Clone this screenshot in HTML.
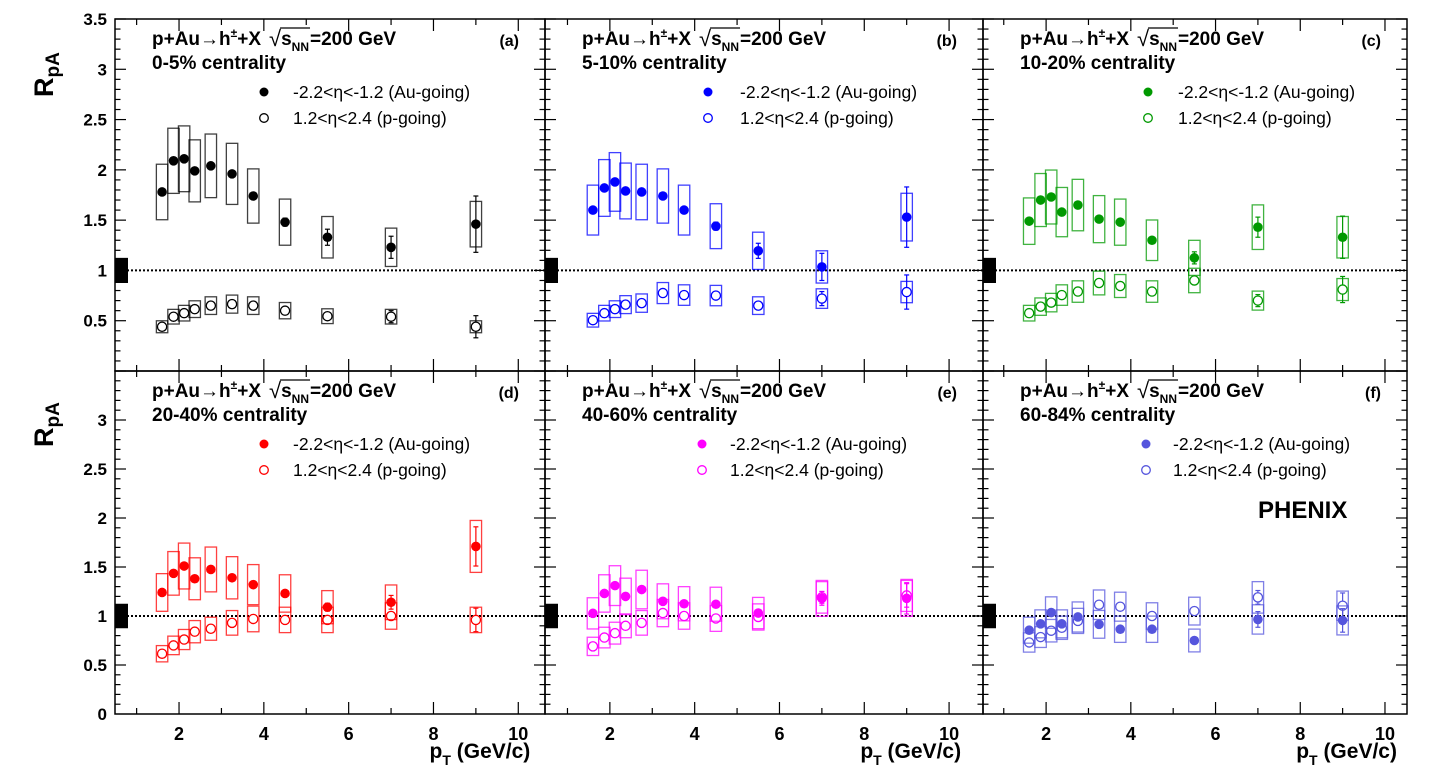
<!DOCTYPE html>
<html><head><meta charset="utf-8">
<style>
html,body{margin:0;padding:0;background:#fff;}
svg{display:block;font-family:"Liberation Sans",Arial,sans-serif;}
</style></head>
<body>
<svg id="chart" width="1438" height="775" viewBox="0 0 1438 775" xmlns="http://www.w3.org/2000/svg">
<rect x="0" y="0" width="1438" height="775" fill="#fff"/>
<text transform="translate(53,97) rotate(-90)" font-size="27" font-weight="bold">R<tspan font-size="19" dy="6">pA</tspan></text>
<text transform="translate(53,447) rotate(-90)" font-size="27" font-weight="bold">R<tspan font-size="19" dy="6">pA</tspan></text>
<text x="1258" y="518" font-size="24" font-weight="bold">PHENIX</text>
<g id="plots"></g>
</svg>
<script>
// ---- data ----
const pT = [1.6, 1.87, 2.12, 2.37, 2.75, 3.25, 3.75, 4.5, 5.5, 7, 9];
const panelLabels = ["(a)", "(b)", "(c)", "(d)", "(e)", "(f)"];
const centralityLabels = ["0-5% centrality", "5-10% centrality", "10-20% centrality", "20-40% centrality", "40-60% centrality", "60-84% centrality"];
const yTickLabelsTop = ["0.5", "1", "1.5", "2", "2.5", "3", "3.5"];
const yTickLabelsBottom = ["0", "0.5", "1", "1.5", "2", "2.5", "3"];
const xTickLabels = ["2", "4", "6", "8", "10"];

const auA = [1.78, 2.09, 2.11, 1.99, 2.04, 1.96, 1.74, 1.48, 1.33, 1.23, 1.46];
const pA  = [0.44, 0.54, 0.575, 0.615, 0.65, 0.665, 0.65, 0.60, 0.545, 0.54, 0.44];
const auB = [1.60, 1.82, 1.88, 1.79, 1.78, 1.74, 1.60, 1.44, 1.195, 1.035, 1.53];
const pB  = [0.505, 0.575, 0.615, 0.66, 0.675, 0.775, 0.755, 0.75, 0.65, 0.72, 0.785];
const auC = [1.49, 1.70, 1.73, 1.58, 1.65, 1.51, 1.48, 1.30, 1.125, 1.43, 1.33];
const pC  = [0.575, 0.64, 0.68, 0.755, 0.79, 0.875, 0.845, 0.79, 0.90, 0.70, 0.81];
const auD = [1.24, 1.435, 1.51, 1.38, 1.475, 1.39, 1.32, 1.23, 1.09, 1.14, 1.71];
const pD  = [0.615, 0.70, 0.76, 0.84, 0.87, 0.93, 0.97, 0.96, 0.96, 1.0, 0.96];
const auE = [1.027, 1.23, 1.31, 1.20, 1.27, 1.15, 1.125, 1.12, 1.03, 1.18, 1.18];
const pE  = [0.69, 0.78, 0.825, 0.90, 0.93, 1.03, 1.0, 0.975, 0.99, 1.19, 1.21];
const auF = [0.855, 0.92, 1.035, 0.92, 0.99, 0.915, 0.865, 0.865, 0.75, 0.965, 0.955];
const pF  = [0.73, 0.785, 0.85, 0.88, 0.95, 1.115, 1.095, 1.0, 1.05, 1.19, 1.105];

const auStatA = [0.02,0.02,0.02,0.02,0.02,0.02,0.03,0.04,0.08,0.11,0.28];
const pStatA  = [0.01,0.01,0.01,0.01,0.01,0.01,0.01,0.02,0.03,0.06,0.11];
const auStatB = [0.02,0.02,0.02,0.02,0.02,0.02,0.03,0.04,0.075,0.135,0.30];
const pStatB  = [0.01,0.01,0.01,0.01,0.01,0.01,0.01,0.02,0.03,0.07,0.17];
const auStatC = [0.02,0.02,0.02,0.02,0.02,0.02,0.02,0.03,0.06,0.10,0.21];
const pStatC  = [0.01,0.01,0.01,0.01,0.01,0.01,0.01,0.02,0.03,0.06,0.13];
const auStatD = [0.02,0.02,0.02,0.02,0.02,0.02,0.02,0.03,0.04,0.07,0.20];
const pStatD  = [0.01,0.01,0.01,0.01,0.01,0.01,0.01,0.02,0.02,0.04,0.12];
const auStatE = [0.02,0.02,0.02,0.02,0.02,0.02,0.02,0.02,0.03,0.07,0.16];
const pStatE  = [0.01,0.01,0.01,0.01,0.01,0.01,0.01,0.02,0.03,0.06,0.12];
const auStatF = [0.02,0.02,0.02,0.02,0.02,0.02,0.02,0.02,0.03,0.08,0.12];
const pStatF  = [0.01,0.01,0.01,0.01,0.01,0.01,0.01,0.02,0.03,0.07,0.13];

const sysFracAu = 0.155;
const sysFracP = 0.135;

// ---- layout ----
const panels = [
  {L:115, R:545, T:19,  B:371, pmin:0.49, pmax:10.63, color:"#000000", au:auA, p:pA, as:auStatA, ps:pStatA, leg:[149,178], row:0},
  {L:545, R:983, T:19,  B:371, pmin:0.47, pmax:10.80, color:"#0000ff", au:auB, p:pB, as:auStatB, ps:pStatB, leg:[163,195], row:0},
  {L:983, R:1407,T:19,  B:371, pmin:0.51, pmax:10.52, color:"#009900", au:auC, p:pC, as:auStatC, ps:pStatC, leg:[165,195], row:0},
  {L:115, R:545, T:371, B:714, pmin:0.49, pmax:10.63, color:"#ff0000", au:auD, p:pD, as:auStatD, ps:pStatD, leg:[149,178], row:1},
  {L:545, R:983, T:371, B:714, pmin:0.47, pmax:10.80, color:"#ff00ff", au:auE, p:pE, as:auStatE, ps:pStatE, leg:[157,185], row:1},
  {L:983, R:1407,T:371, B:714, pmin:0.51, pmax:10.52, color:"#5555dd", au:auF, p:pF, as:auStatF, ps:pStatF, leg:[163,190], row:1}
];
const NS = "http://www.w3.org/2000/svg";
const root = document.getElementById("plots");
function mk(tag, attrs, parent){
  const e = document.createElementNS(NS, tag);
  for (const k in attrs) e.setAttribute(k, attrs[k]);
  (parent || root).appendChild(e);
  return e;
}

panels.forEach((P, i) => {
  const xs = v => P.L + (v - P.pmin) / (P.pmax - P.pmin) * (P.R - P.L);
  const ys = v => P.B - v / 3.5 * (P.B - P.T);
  const g = mk("g", {});
  
  

  const fr = mk("rect", {x:P.L, y:P.T, width:P.R-P.L, height:P.B-P.T, fill:"none", stroke:"#000", "stroke-width":1.5}, g);
  
  

  for (let k = 1; k <= 35; k++) {
    const v = k / 10, y = ys(v), major = (k % 5 === 0);
    const len = major ? 11 : 5.5;
    mk("line", {x1:P.L, x2:P.L+len, y1:y, y2:y, stroke:"#000", "stroke-width":1.2}, g);
    mk("line", {x1:P.R, x2:P.R-len, y1:y, y2:y, stroke:"#000", "stroke-width":1.2}, g);
  }
  for (let v = 1; v <= 10; v++) {
    const x = xs(v), major = (v % 2 === 0);
    const len = major ? 12 : 6;
    mk("line", {x1:x, x2:x, y1:P.B, y2:P.B-len, stroke:"#000", "stroke-width":1.2}, g);
    mk("line", {x1:x, x2:x, y1:P.T, y2:P.T+len, stroke:"#000", "stroke-width":1.2}, g);
  }
  if (i === 0 || i === 3) {
    const labs = P.row === 0 ? yTickLabelsTop : yTickLabelsBottom;
    labs.forEach(s => {
      const t = mk("text", {x:P.L-8, y:ys(parseFloat(s))+6, "text-anchor":"end", "font-size":17, "font-weight":"bold"}, g);
      
      
      t.textContent = s;
    });
  }
  if (P.row === 1) {
    xTickLabels.forEach(s => {
      const t = mk("text", {x:xs(parseFloat(s)), y:740, "text-anchor":"middle", "font-size":18, "font-weight":"bold"}, g);
      
      
      t.textContent = s;
    });
    const xt = mk("text", {x:xs(10)+12, y:758, "text-anchor":"end", "font-size":21, "font-weight":"bold"}, g);
    
    
    xt.innerHTML = 'p<tspan font-size="14" dy="7">T</tspan><tspan dy="-7"> (GeV/c)</tspan>';
  }

  const nb = mk("rect", {x:P.L, y:ys(1.125), width:13, height:ys(0.875)-ys(1.125), fill:"#000"}, g);
  
  
  const dl = mk("line", {x1:P.L, x2:P.R, y1:ys(1), y2:ys(1), stroke:"#000", "stroke-width":2, "stroke-dasharray":"2,2"}, g);
  
  

  // title
  const tx = P.L + 37, ty = P.T + 26;
  const t1a = mk("text", {x:tx, y:ty, "font-size":19, "font-weight":"bold"}, g);
  
  
  t1a.innerHTML = 'p+Au\u2192h<tspan font-size="12" dy="-8">\u00b1</tspan><tspan dy="8">+X</tspan>';
  let w1 = 98;
  try { w1 = t1a.getComputedTextLength() || 98; } catch(e) {}
  const sx = tx + w1 + 8;
  const sq = mk("text", {x:sx, y:ty+1, "font-size":22}, g);
  
  
  sq.textContent = "\u221a";
  let ws = 12;
  try { ws = sq.getComputedTextLength() || 12; } catch(e) {}
  const snn = mk("text", {x:sx+ws, y:ty, "font-size":19, "font-weight":"bold"}, g);
  
  
  snn.innerHTML = 's<tspan font-size="12" dy="6">NN</tspan>';
  let wn = 28;
  try { wn = snn.getComputedTextLength() || 28; } catch(e) {}
  mk("line", {x1:sx+ws-1, x2:sx+ws+wn+1, y1:ty-17, y2:ty-17, stroke:"#000", "stroke-width":1.3}, g);
  const en = mk("text", {x:sx+ws+wn+1, y:ty, "font-size":19, "font-weight":"bold"}, g);
  
  
  en.textContent = "=200 GeV";

  const cen = mk("text", {x:tx, y:ty+24, "font-size":19, "font-weight":"bold"}, g);
  
  
  cen.textContent = centralityLabels[i];
  const pl = mk("text", {x:P.R-26, y:ty+1, "text-anchor":"end", "font-size":16, "font-weight":"bold"}, g);
  
  
  pl.textContent = panelLabels[i];

  // legend
  const lm = P.L + P.leg[0], lt = P.L + P.leg[1];
  const l1 = mk("circle", {cx:lm, cy:P.T+73, r:4.5, fill:P.color}, g);
  
  
  const lt1 = mk("text", {x:lt, y:P.T+79, "font-size":17.5}, g);
  
  
  lt1.textContent = "-2.2<\u03b7<-1.2 (Au-going)";
  const l2 = mk("circle", {cx:lm, cy:P.T+99, r:4.3, fill:"#fff", stroke:P.color, "stroke-width":1.3}, g);
  
  
  const lt2 = mk("text", {x:lt, y:P.T+105, "font-size":17.5}, g);
  
  
  lt2.textContent = "1.2<\u03b7<2.4 (p-going)";

  function drawSeries(vals, stats, frac, filled, name) {
    vals.forEach((v, j) => {
      const x = xs(pT[j]);
      const s = frac * v;
      const bx = mk("rect", {x:x-5.7, y:ys(v+s), width:11.4, height:ys(v-s)-ys(v+s), fill:"none", stroke:P.color, "stroke-width":1.3, "stroke-opacity":0.75}, g);
      
      
      const e = stats[j];
      mk("line", {x1:x, x2:x, y1:ys(v+e), y2:ys(v-e), stroke:P.color, "stroke-width":1.2}, g);
      mk("line", {x1:x-2.5, x2:x+2.5, y1:ys(v+e), y2:ys(v+e), stroke:P.color, "stroke-width":1.2}, g);
      mk("line", {x1:x-2.5, x2:x+2.5, y1:ys(v-e), y2:ys(v-e), stroke:P.color, "stroke-width":1.2}, g);
      const c = filled
        ? mk("circle", {cx:x, cy:ys(v), r:4.8, fill:P.color}, g)
        : mk("circle", {cx:x, cy:ys(v), r:4.6, fill:"#fff", stroke:P.color, "stroke-width":1.3}, g);
      
      
    });
  }
  drawSeries(P.p, P.ps, sysFracP, false, 'p-going');
  drawSeries(P.au, P.as, sysFracAu, true, 'au-going');
});
</script>
</body></html>
